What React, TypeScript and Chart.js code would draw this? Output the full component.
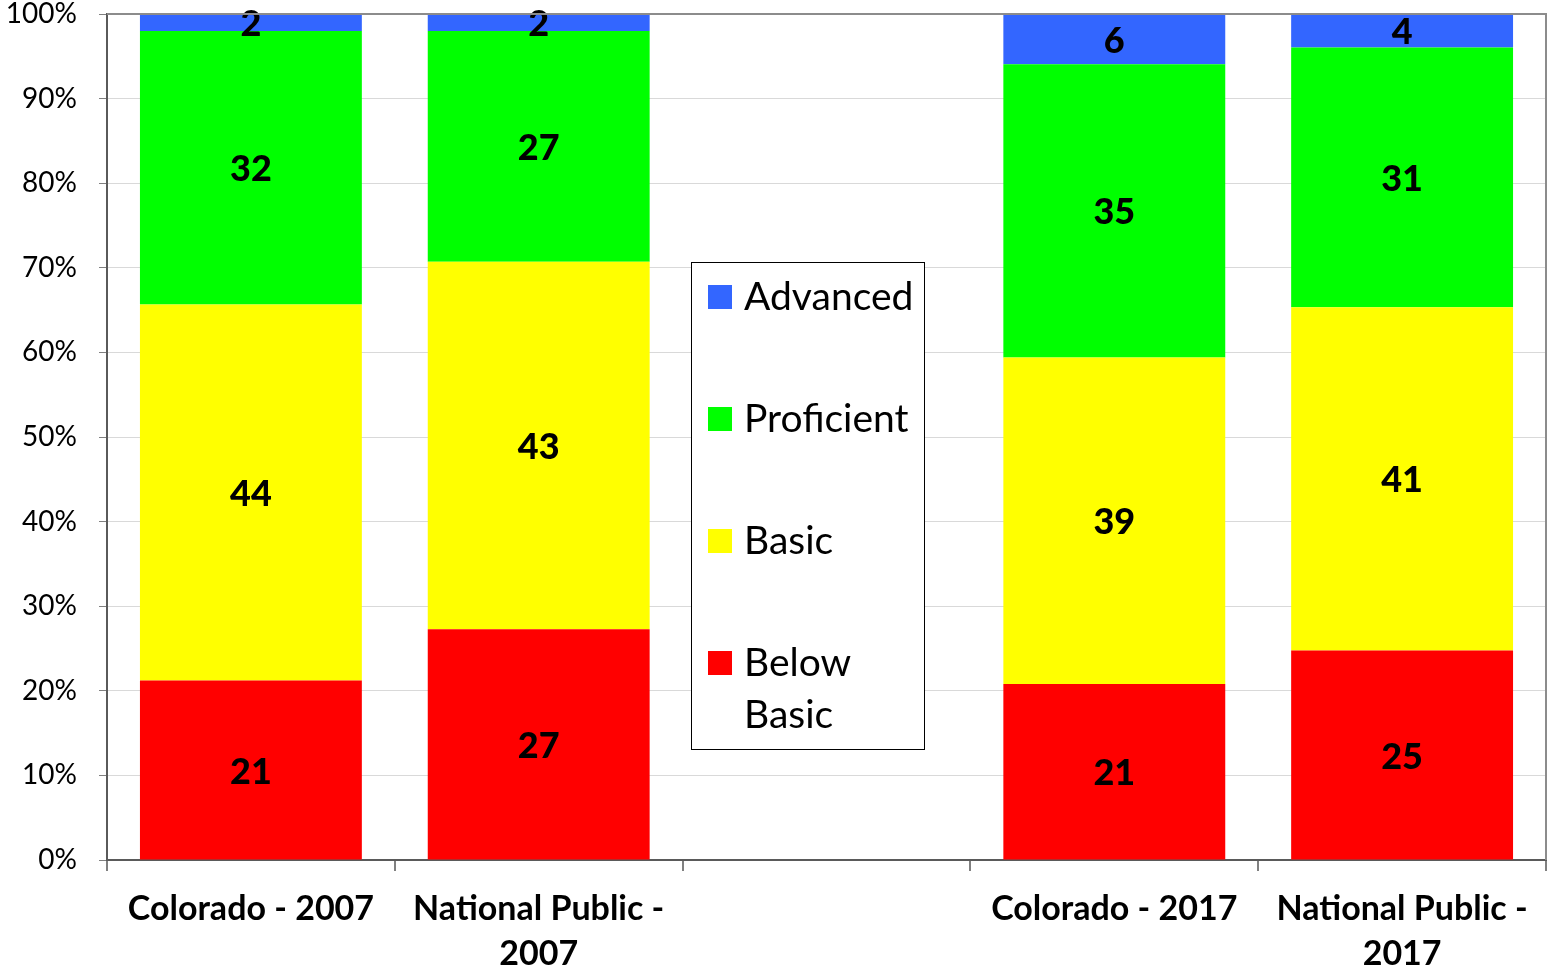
import React, { useEffect, useRef } from 'react';
import { Chart, registerables } from 'chart.js';

Chart.register(...registerables);

const categories: string[][] = [
  ['Colorado - 2007'],
  ['National Public -', '2007'],
  [''],
  ['Colorado - 2017'],
  ['National Public -', '2017'],
];
const seriesNames = ['Below Basic', 'Basic', 'Proficient', 'Advanced'];
const belowBasic = [21, 27, null, 21, 25];
const basic = [44, 43, null, 39, 41];
const proficient = [32, 27, null, 35, 31];
const advanced = [2, 2, null, 6, 4];
const seriesColors = ['#FF0000', '#FFFF00', '#00FF00', '#3366FF'];
const yTickValues = [0, 10, 20, 30, 40, 50, 60, 70, 80, 90, 100];

const FONT = 'Lato, "Open Sans", sans-serif';

const rawSeries = [belowBasic, basic, proficient, advanced];
const totals = categories.map((_, i) =>
  rawSeries.reduce((s, arr) => s + (arr[i] ?? 0), 0)
);
const pctSeries = rawSeries.map((arr) =>
  arr.map((v, i) => (v == null || totals[i] === 0 ? null : (v / totals[i]) * 100))
);

const dataLabelPlugin = {
  id: 'dataLabels',
  afterDatasetsDraw(chart: any) {
    const ctx = chart.ctx;
    ctx.save();
    ctx.font = `900 36px ${FONT}`;
    ctx.fillStyle = '#000';
    ctx.textAlign = 'center';
    ctx.textBaseline = 'middle';
    chart.data.datasets.forEach((ds: any, di: number) => {
      const meta = chart.getDatasetMeta(di);
      meta.data.forEach((el: any, i: number) => {
        const raw = rawSeries[di][i];
        if (raw == null) return;
        const props = el.getProps(['x', 'y', 'base'], true);
        const cy = (props.y + props.base) / 2;
        ctx.fillText(String(raw), props.x, cy + 2);
      });
    });
    ctx.restore();
  },
};

const legendPlugin = {
  id: 'boxLegend',
  afterDraw(chart: any) {
    const ctx = chart.ctx;
    const a = chart.chartArea;
    ctx.save();
    const bx = a.left + 584;
    const by = a.top + 248;
    const bw = 233;
    const bh = 487;
    ctx.fillStyle = '#fff';
    ctx.fillRect(bx, by, bw, bh);
    ctx.strokeStyle = '#000';
    ctx.lineWidth = 1;
    ctx.strokeRect(bx + 0.5, by + 0.5, bw, bh);
    ctx.font = `39px ${FONT}`;
    ctx.textAlign = 'left';
    ctx.textBaseline = 'middle';
    const order = [3, 2, 1, 0];
    order.forEach((si, k) => {
      const cy = by + 35 + k * 122;
      ctx.fillStyle = seriesColors[si];
      ctx.fillRect(bx + 17, cy - 12, 24, 24);
      ctx.fillStyle = '#000';
      const name = seriesNames[si];
      if (name === 'Below Basic') {
        ctx.fillText('Below', bx + 53, cy);
        ctx.fillText('Basic', bx + 53, cy + 52);
      } else {
        ctx.fillText(name, bx + 53, cy);
      }
    });
    // plot border top/right
    ctx.strokeStyle = '#8c8c8c';
    ctx.lineWidth = 2;
    ctx.beginPath();
    ctx.moveTo(a.left, a.top);
    ctx.lineTo(a.right, a.top);
    ctx.lineTo(a.right, a.bottom);
    ctx.stroke();
    ctx.restore();
  },
};

export default function App() {
  const ref = useRef<HTMLCanvasElement | null>(null);
  useEffect(() => {
    document.body.style.margin = '0';
    if (!ref.current) return;
    const chart = new Chart(ref.current, {
      type: 'bar',
      data: {
        labels: categories,
        datasets: seriesNames.map((name, i) => ({
          label: name,
          data: pctSeries[i],
          backgroundColor: seriesColors[i],
          borderWidth: 0,
          categoryPercentage: 1,
          barPercentage: 0.771,
        })),
      },
      options: {
        animation: false,
        responsive: false,
        layout: { padding: { top: 14, right: 1, left: 0, bottom: 0 } },
        plugins: {
          legend: { display: false },
          tooltip: { enabled: false },
        },
        scales: {
          x: {
            stacked: true,
            grid: {
              offset: true,
              drawOnChartArea: false,
              drawTicks: true,
              tickLength: 11,
              tickColor: '#808080',
              lineWidth: 2,
            },
            border: { color: '#5a5a5a', width: 2 },
            ticks: {
              color: '#000',
              font: { family: FONT, size: 34, weight: 'bold', lineHeight: 1.32 },
              padding: 16,
              maxRotation: 0,
              autoSkip: false,
            },
            afterFit: (s: any) => {
              s.height = 109;
              s.paddingLeft = 0;
              s.paddingRight = 0;
            },
          },
          y: {
            stacked: true,
            min: 0,
            max: 100,
            afterBuildTicks: (s: any) => {
              s.ticks = yTickValues.map((v) => ({ value: v }));
            },
            grid: {
              color: '#d9d9d9',
              lineWidth: 1,
              tickLength: 8,
              tickColor: '#808080',
            },
            border: { color: '#5a5a5a', width: 2 },
            ticks: {
              color: '#000',
              font: { family: FONT, size: 28 },
              padding: 22,
              callback: (v: any) => `${v}%`,
            },
            afterFit: (s: any) => {
              s.width = 107;
              s.paddingTop = 0;
              s.paddingBottom = 0;
            },
          },
        },
      },
      plugins: [dataLabelPlugin, legendPlugin],
    } as any);
    return () => chart.destroy();
  }, []);
  return <canvas ref={ref} width={1547} height={969} style={{ display: 'block' }} />;
}
